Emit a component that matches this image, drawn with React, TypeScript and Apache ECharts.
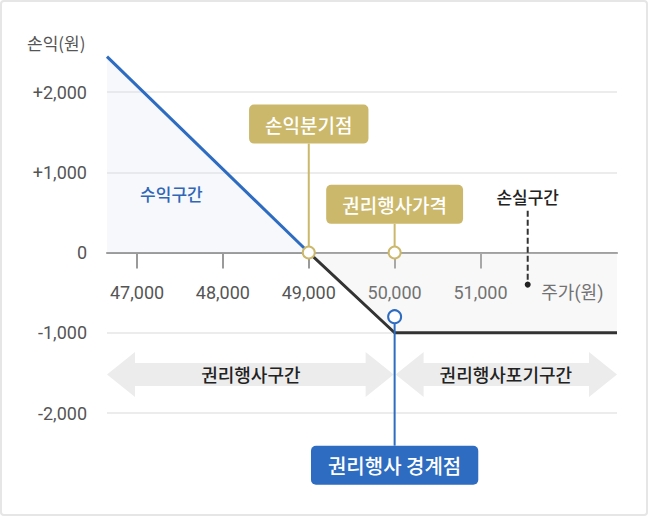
import React, { useEffect, useRef } from "react";
import * as echarts from "echarts";

// ---- data ----
const xRange = [46650, 52590];
const yRange = [-2000, 2000];
const yInterval = 1000;
const xTickValues = [47000, 48000, 49000, 50000, 51000];
const xUnitLabelValue = 52070; // where "주가(원)" sits on the price axis
const xUnitLabel = "주가(원)";
const yUnitLabel = "손익(원)";

// payoff line (profit zone, blue) and (loss zone, black)
const profitLine = [
  [46650, 2440],
  [49000, 0],
];
const lossLine = [
  [49000, 0],
  [50000, -1000],
  [52590, -1000],
];
const breakEven = [49000, 0];
const strike = [50000, 0];
const exerciseBoundary = [50000, -800];

const FONT = "Roboto, 'Noto Sans CJK KR', sans-serif";
const KFONT = "'Noto Sans CJK KR', sans-serif";
const GOLD = "#cbb86b";
const BLUE = "#2d6cc0";

function fmtY(v: number) {
  if (v % 1000 !== 0) return "";
  const s = Math.abs(v).toLocaleString("en-US");
  if (v > 0) return "+" + s;
  if (v < 0) return "-" + s;
  return "0";
}

export default function App() {
  const ref = useRef<HTMLDivElement>(null);
  useEffect(() => {
    const chart = echarts.init(ref.current!, null, { renderer: "svg" });
    chart.setOption({
      animation: false,
      textStyle: { fontFamily: FONT },
      grid: { left: 107, right: 31, top: 92, bottom: 103 },
      xAxis: {
        type: "value",
        min: xRange[0],
        max: xRange[1],
        axisLine: { onZero: true, lineStyle: { color: "#9a9a9a", width: 2 } },
        axisTick: {
          show: true,
          customValues: xTickValues,
          length: 16,
          lineStyle: { color: "#9a9a9a", width: 2 },
        },
        axisLabel: {
          customValues: [...xTickValues, xUnitLabelValue],
          margin: -130,
          color: "#555",
          fontSize: 18,
          fontFamily: FONT,
          formatter: (v: number) =>
            v === xUnitLabelValue ? xUnitLabel : v.toLocaleString("en-US"),
        },
        splitLine: { show: false },
      },
      yAxis: {
        type: "value",
        min: yRange[0],
        max: yRange[1],
        interval: yInterval,
        axisLine: { show: false },
        axisTick: { show: false },
        axisLabel: {
          margin: 20,
          color: "#555",
          fontSize: 18,
          fontFamily: FONT,
          formatter: fmtY,
        },
        splitLine: { lineStyle: { color: "#ececec", width: 2 } },
      },
      series: [
        {
          type: "line",
          data: profitLine,
          showSymbol: false,
          clip: false,
          lineStyle: { color: BLUE, width: 3 },
          areaStyle: { color: "rgba(212,220,238,0.3)", origin: "auto" },
          z: 2,
        },
        {
          type: "line",
          data: lossLine,
          showSymbol: false,
          clip: false,
          lineStyle: { color: "#333", width: 3 },
          areaStyle: { color: "rgba(220,220,220,0.3)", origin: "auto" },
          z: 2,
        },
      ],
    });

    const px = (p: number[]) => chart.convertToPixel({ gridIndex: 0 }, p) as number[];
    const [xL] = px([xRange[0], 0]);
    const [xR] = px([xRange[1], 0]);
    const pBE = px(breakEven);
    const pST = px(strike);
    const pEB = px(exerciseBoundary);

    const box1 = px([breakEven[0], 1600]);
    const box2 = px([strike[0], 600]);
    const box3 = px([exerciseBoundary[0], -2650]);
    const arrowY = px([0, -1520])[1];
    const lossTxt = px([51550, 700]);
    const lossDashTop = px([51550, 520]);
    const lossDot = px([51550, -400]);
    const gainTxt = px([47400, 740]);

    const BH = 19.5; // half box height
    const label = (p: number[], text: string, bg: string, size: number, padX: number) => ({
      type: "text",
      x: p[0],
      y: p[1],
      z: 20,
      style: {
        text,
        fill: "#fff",
        font: `500 ${size}px ${KFONT}`,
        align: "center",
        verticalAlign: "middle",
        backgroundColor: bg,
        padding: [(39 - 21) / 2, padX],
        borderRadius: 5,
        lineHeight: 21,
      },
    });

    const arrow = (x0: number, x1: number, y: number) => {
      const hl = 28, hh = 22.5, sh = 11.5;
      return {
        type: "polygon",
        z: 1,
        silent: true,
        shape: {
          points: [
            [x0, y],
            [x0 + hl, y - hh],
            [x0 + hl, y - sh],
            [x1 - hl, y - sh],
            [x1 - hl, y - hh],
            [x1, y],
            [x1 - hl, y + hh],
            [x1 - hl, y + sh],
            [x0 + hl, y + sh],
            [x0 + hl, y + hh],
          ],
        },
        style: { fill: "#ececec" },
      };
    };

    const circle = (p: number[], color: string, r: number) => ({
      type: "circle",
      z: 25,
      shape: { cx: p[0], cy: p[1], r },
      style: { fill: "#fff", stroke: color, lineWidth: 2 },
    });

    const plainText = (p: number[], text: string, fill: string, size: number, z = 10) => ({
      type: "text",
      x: p[0],
      y: p[1],
      z,
      style: {
        text,
        fill,
        font: `500 ${size}px ${KFONT}`,
        align: "center",
        verticalAlign: "middle",
      },
    });

    chart.setOption({
      graphic: [
        {
          type: "rect",
          z: 0,
          silent: true,
          shape: { x: 1, y: 1, width: 646, height: 514, r: 3 },
          style: { fill: "none", stroke: "#e6e6e6", lineWidth: 2 },
        },
        {
          type: "text",
          x: 27,
          y: 42,
          style: {
            text: yUnitLabel,
            fill: "#555",
            font: `17px ${KFONT}`,
            verticalAlign: "middle",
          },
        },
        arrow(xL, pST[0] - 1, arrowY),
        arrow(pST[0] + 1, xR, arrowY),
        plainText([(xL + pST[0]) / 2, arrowY], "권리행사구간", "#222", 18, 3),
        plainText([(pST[0] + xR) / 2, arrowY], "권리행사포기구간", "#222", 18, 3),
        // connectors
        {
          type: "line",
          z: 15,
          shape: { x1: pBE[0], y1: box1[1] + BH, x2: pBE[0], y2: pBE[1] },
          style: { stroke: GOLD, lineWidth: 2 },
        },
        {
          type: "line",
          z: 15,
          shape: { x1: pST[0], y1: box2[1] + BH, x2: pST[0], y2: pST[1] },
          style: { stroke: GOLD, lineWidth: 2 },
        },
        {
          type: "line",
          z: 15,
          shape: { x1: pEB[0], y1: pEB[1], x2: pEB[0], y2: box3[1] - BH },
          style: { stroke: BLUE, lineWidth: 2 },
        },
        circle(pBE, GOLD, 6),
        circle(pST, GOLD, 6),
        circle(pEB, BLUE, 6.5),
        label(box1, "손익분기점", GOLD, 19, 16),
        label(box2, "권리행사가격", GOLD, 19, 16),
        label(box3, "권리행사 경계점", BLUE, 20, 17),
        plainText(gainTxt, "수익구간", "#2f66b8", 17),
        plainText(lossTxt, "손실구간", "#222", 17),
        {
          type: "line",
          z: 10,
          shape: { x1: lossDashTop[0], y1: lossDashTop[1], x2: lossDot[0], y2: lossDot[1] - 2 },
          style: { stroke: "#333", lineWidth: 2, lineDash: [6, 3] },
        },
        {
          type: "circle",
          z: 10,
          shape: { cx: lossDot[0], cy: lossDot[1], r: 3 },
          style: { fill: "#222" },
        },
      ],
    });
    return () => chart.dispose();
  }, []);
  return (
    <div
      ref={ref}
      style={{ position: "absolute", left: 0, top: 0, width: 648, height: 516 }}
    />
  );
}
